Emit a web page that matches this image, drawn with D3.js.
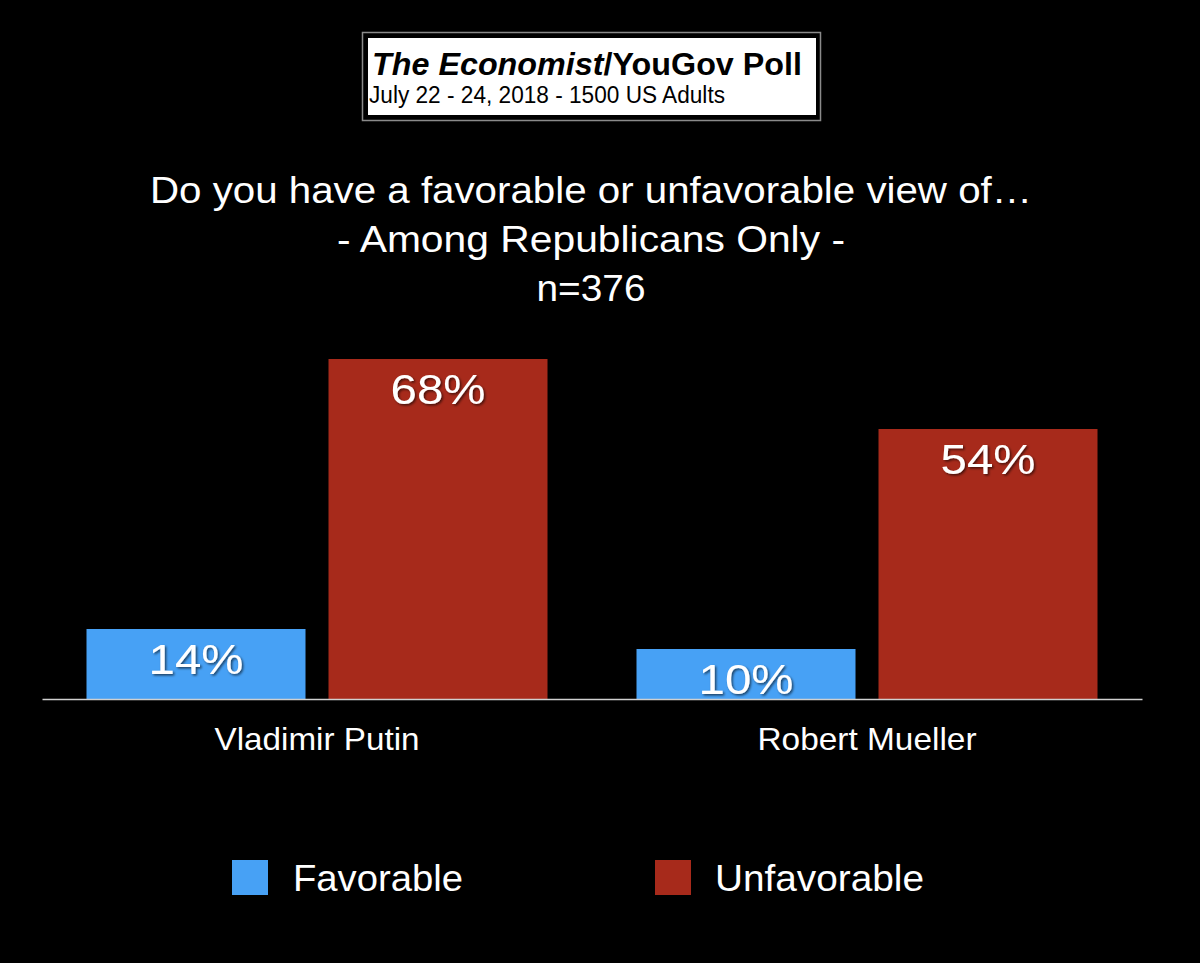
<!DOCTYPE html>
<html><head><meta charset="utf-8">
<script src="https://cdn.jsdelivr.net/npm/d3@7"></script>
<style>
html,body{margin:0;padding:0;background:#000;}
svg{display:block;}
text{font-family:"Liberation Sans",Arial,Helvetica,sans-serif;}
</style></head>
<body><svg id="chart" width="1200" height="963"></svg>
<script>
const categories = ["Vladimir Putin", "Robert Mueller"];
const seriesNames = ["Favorable", "Unfavorable"];
const favorable = [14, 10];
const unfavorable = [68, 54];
const colors = ["#47a1f5", "#a72a1b"];
const titleLines = ["Do you have a favorable or unfavorable view of…", "- Among Republicans Only -", "n=376"];

const svg = d3.select("#chart");
const W = 1200, H = 963;
svg.append("rect").attr("width", W).attr("height", H).attr("fill", "#000");

// width fitting helper (reference font is wider than Liberation Sans)
function fit(sel, w) { sel.attr("textLength", w).attr("lengthAdjust", "spacingAndGlyphs"); }

const defs = svg.append("defs");
const f = defs.append("filter").attr("id", "shadow").attr("x", "-20%").attr("y", "-20%").attr("width", "140%").attr("height", "140%");
f.append("feDropShadow").attr("dx", 1.5).attr("dy", 1.5).attr("stdDeviation", 1).attr("flood-color", "#000").attr("flood-opacity", 0.6);

// Header box
svg.append("rect").attr("x", 362.5).attr("y", 32.5).attr("width", 458).attr("height", 88)
  .attr("fill", "#000").attr("stroke", "#8a8a8a").attr("stroke-width", 1.5);
svg.append("rect").attr("x", 368).attr("y", 38).attr("width", 448).attr("height", 77).attr("fill", "#fff");
const t1 = svg.append("text").attr("x", 372).attr("y", 75).attr("font-size", 32).attr("font-weight", "bold").attr("fill", "#000");
t1.append("tspan").attr("font-style", "italic").text("The Economist");
t1.append("tspan").text("/YouGov Poll");
fit(t1, 430);
svg.append("text").attr("x", 369).attr("y", 103).attr("font-size", 23).attr("fill", "#000")
  .text("July 22 - 24, 2018 - 1500 US Adults").call(fit, 356);

// Title
const titleW = [882, 508, 109];
svg.selectAll("text.title").data(titleLines).join("text").attr("class", "title")
  .attr("x", 591).attr("y", (d, i) => 203 + i * 49)
  .attr("text-anchor", "middle").attr("font-size", 37).attr("fill", "#fff").text(d => d)
  .each(function(d, i) { fit(d3.select(this), titleW[i]); });

// Scales
const baseline = 699;
const x0 = d3.scaleBand().domain(categories).range([42, 1142]).paddingInner(0).paddingOuter(0);
const groupW = 461;
const x1 = d3.scaleBand().domain(seriesNames).range([0, groupW]).paddingInner(0.095);
const y = d3.scaleLinear().domain([0, 68]).range([baseline, 359]);

const data = categories.map((c, i) => ({cat: c, vals: [
  {s: seriesNames[0], v: favorable[i], c: colors[0]},
  {s: seriesNames[1], v: unfavorable[i], c: colors[1]}]}));

const groups = svg.selectAll("g.grp").data(data).join("g").attr("class", "grp")
  .attr("transform", d => `translate(${x0(d.cat) + (x0.bandwidth() - groupW) / 2},0)`);
groups.selectAll("rect").data(d => d.vals).join("rect")
  .attr("x", d => x1(d.s)).attr("width", x1.bandwidth())
  .attr("y", d => y(d.v)).attr("height", d => baseline - y(d.v)).attr("fill", d => d.c);
groups.selectAll("text").data(d => d.vals).join("text")
  .attr("x", d => x1(d.s) + x1.bandwidth() / 2).attr("y", d => y(d.v) + 45)
  .attr("text-anchor", "middle").attr("font-size", 42).attr("fill", "#fff")
  .attr("filter", "url(#shadow)").text(d => d.v + "%")
  .attr("textLength", 95).attr("lengthAdjust", "spacingAndGlyphs");

// Axis
const axis = svg.append("g").attr("transform", `translate(0,${baseline})`)
  .call(d3.axisBottom(x0).tickSize(0).tickPadding(0));
axis.select(".domain").attr("stroke", "#d0d0d0").attr("stroke-width", 1.5);
const catW = [205, 219];
axis.selectAll(".tick text").attr("font-size", 32).attr("fill", "#fff").attr("dy", 0).attr("y", 51)
  .attr("font-family", "Liberation Sans, Arial, sans-serif")
  .each(function(d, i) { fit(d3.select(this), catW[i]); });

// Legend
const legendX = [232, 655];
const legW = [170, 209];
const leg = svg.selectAll("g.leg").data(seriesNames).join("g").attr("class", "leg")
  .attr("transform", (d, i) => `translate(${legendX[i]},860)`);
leg.append("rect").attr("width", 36).attr("height", 35).attr("fill", (d, i) => colors[i]);
leg.append("text").attr("x", (d, i) => i === 0 ? 61 : 60).attr("y", 31).attr("font-size", 37)
  .attr("fill", "#fff").text(d => d)
  .each(function(d, i) { fit(d3.select(this), legW[i]); });
</script></body></html>
